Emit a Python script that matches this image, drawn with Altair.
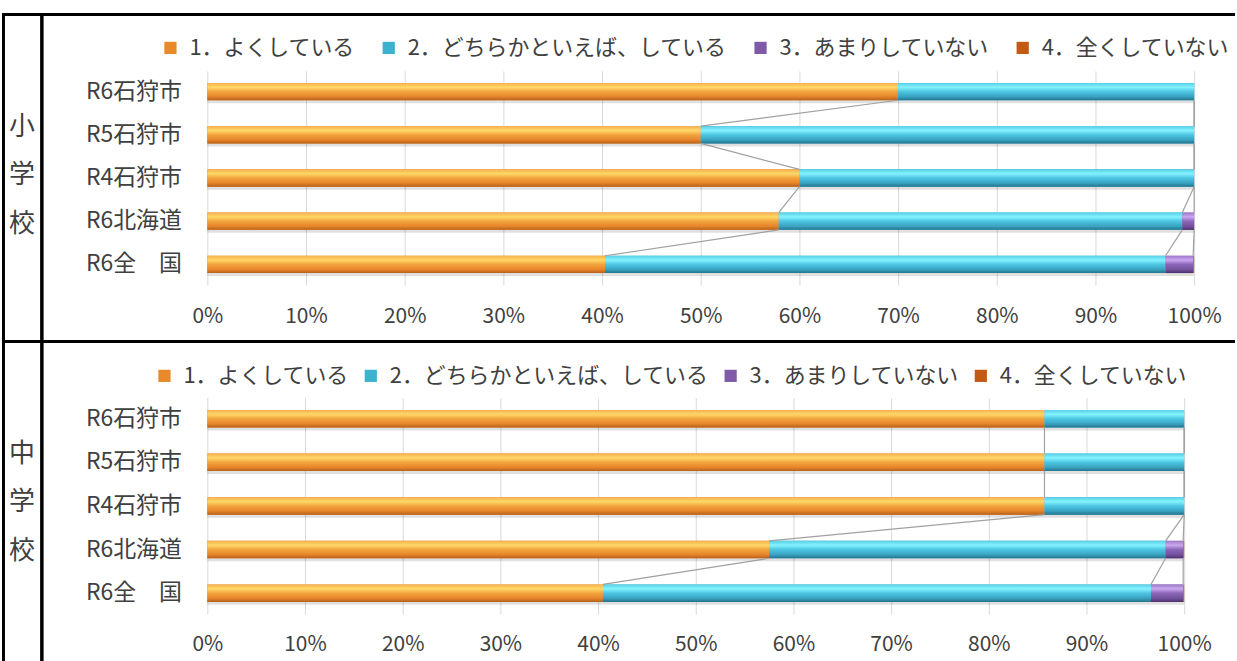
import altair as alt
import pandas as pd

# ---------------- data ----------------
categories = ["R6石狩市", "R5石狩市", "R4石狩市", "R6北海道", "R6全　国"]
series_names = ["1．よくしている", "2．どちらかといえば、している", "3．あまりしていない", "4．全くしていない"]
series_colors = ["#E8892A", "#3DB2CF", "#7E5AA8", "#C25A16"]

# 小学校 (percent)
elem_s1 = [70.0, 50.0, 60.0, 57.9, 40.3]
elem_s2 = [30.0, 50.0, 40.0, 40.9, 56.8]
elem_s3 = [0.0, 0.0, 0.0, 1.2, 2.8]
elem_s4 = [0.0, 0.0, 0.0, 0.0, 0.1]

# 中学校 (percent)
jh_s1 = [85.7, 85.7, 85.7, 57.5, 40.5]
jh_s2 = [14.3, 14.3, 14.3, 40.6, 56.1]
jh_s3 = [0.0, 0.0, 0.0, 1.8, 3.3]
jh_s4 = [0.0, 0.0, 0.0, 0.1, 0.1]

x_ticks = [0, 10, 20, 30, 40, 50, 60, 70, 80, 90, 100]
side_elem = ["小", "学", "校"]
side_jh = ["中", "学", "校"]

# ---------------- style ----------------
FONT = "Noto Sans CJK JP"
TEXT = "#404040"
PAD_IN = 0.6
PAD_OUT = 0.28

gradients = [
    [("#F6B04E", 0), ("#FFD868", 0.25), ("#F3A43E", 0.5), ("#E5842A", 0.8), ("#B5601B", 1)],
    [("#58CFE6", 0), ("#84F3FF", 0.25), ("#4DC6E2", 0.5), ("#38A2C0", 0.8), ("#25738C", 1)],
    [("#9C78C8", 0), ("#CBA8F0", 0.25), ("#8C66B8", 0.5), ("#73509D", 0.8), ("#4D326E", 1)],
]


def grad(stops):
    return {
        "gradient": "linear", "x1": 0, "x2": 0, "y1": 0, "y2": 1,
        "stops": [{"offset": o, "color": c} for c, o in stops],
    }


def make_table(vals):
    rows = []
    for i, cat in enumerate(categories):
        start = 0.0
        for k, name in enumerate(series_names):
            v = vals[k][i]
            rows.append({"cat": cat, "series": name, "k": k,
                         "start": start, "end": start + v})
            start += v
    return pd.DataFrame(rows)


def make_lines(vals):
    n = len(categories)
    ends = [[sum(vals[j][i] for j in range(k + 1)) for i in range(n)] for k in range(3)]
    rows = []
    for k in range(3):
        for i in range(n - 1):
            rows.append({"upper": categories[i], "lower": categories[i + 1],
                         "xu": ends[k][i], "xl": ends[k][i + 1]})
    return pd.DataFrame(rows)


one = pd.DataFrame({"_": [0]})


def panel(vals, width, height, legend_x, legend_y, col_pad, side_chars, extra=()):
    bars = make_table(vals)
    lines = make_lines(vals)
    half = (1 - PAD_IN) * height / (len(categories) - PAD_IN + 2 * PAD_OUT) / 2

    xscale = alt.Scale(domain=[0, 100], nice=False)
    yscale = alt.Scale(domain=categories, paddingInner=PAD_IN, paddingOuter=PAD_OUT)
    x_axis = alt.Axis(values=x_ticks, labelExpr="datum.value + '%'", grid=True,
                      gridColor="#D9D9D9", gridWidth=1, domain=False, ticks=False,
                      labelFontSize=21, labelColor=TEXT, labelFont=FONT,
                      labelFlush=False, labelPadding=20, title=None)
    y_axis = alt.Axis(domain=False, ticks=False, grid=False, labelFontSize=23,
                      labelColor=TEXT, labelFont=FONT, labelPadding=26, title=None)

    base = alt.Chart(bars).encode(
        x=alt.X("start:Q", scale=xscale, axis=x_axis),
        x2="end:Q",
        y=alt.Y("cat:N", scale=yscale, axis=y_axis),
    )
    shadow = base.mark_bar(color="#000000", opacity=0.12, yOffset=3)
    solid = base.mark_bar().encode(
        color=alt.Color(
            "series:N",
            scale=alt.Scale(domain=series_names, range=series_colors),
            legend=alt.Legend(orient="none", legendX=legend_x, legendY=legend_y,
                              direction="horizontal", columns=4, title=None,
                              symbolType="square", symbolSize=150,
                              symbolStrokeWidth=0, labelFontSize=22,
                              labelColor=TEXT, labelFont=FONT, labelLimit=1000,
                              columnPadding=col_pad, labelOffset=8, padding=0),
        )
    )
    grad_layers = [
        base.transform_filter(alt.datum.k == k).mark_bar(fill=grad(gradients[k]))
        for k in range(3)
    ]
    series_lines = alt.Chart(lines).mark_rule(
        color="#A0A0A0", strokeWidth=1.2, yOffset=half, y2Offset=-half
    ).encode(
        x=alt.X("xu:Q", scale=xscale, axis=x_axis),
        x2="xl:Q",
        y=alt.Y("upper:N", scale=yscale, axis=y_axis),
        y2="lower:N",
    )
    side = alt.Chart(one).mark_text(
        fontSize=26, lineHeight=49, align="center", baseline="middle",
        color=TEXT, font=FONT
    ).encode(x=alt.value(-186), y=alt.value(56), text=alt.value(side_chars))

    layers = [shadow, solid] + grad_layers + [series_lines, side] + list(extra)
    return alt.layer(*layers).properties(width=width, height=height)


def hrule(x1, x2, y, w):
    return alt.Chart(one).mark_rule(color="#000000", strokeWidth=w).encode(
        x=alt.value(x1), x2=alt.value(x2), y=alt.value(y))


def vrule(x, y1, y2, w):
    return alt.Chart(one).mark_rule(color="#000000", strokeWidth=w).encode(
        x=alt.value(x), y=alt.value(y1), y2=alt.value(y2))


borders = [
    hrule(-206, 1031, -56.5, 3),     # top border
    hrule(-206, 1031, 271.5, 3),     # separator between 小学校 / 中学校
    vrule(-204.5, -58, 593, 3),      # left border
    vrule(-166, -55, 593, 3.5),      # inner vertical border
]

top = panel([elem_s1, elem_s2, elem_s3, elem_s4], 990, 215, -48, -34, 22, side_elem, borders)
bottom = panel([jh_s1, jh_s2, jh_s3, jh_s4], 980, 217, -54, -33, 10, side_jh)

chart = alt.vconcat(top, bottom, spacing=113, bounds="flush").resolve_scale(
    x="independent", y="independent", color="independent"
).resolve_legend(color="independent").properties(
    padding={"left": 0, "top": 10, "right": 0, "bottom": 0},
    autosize=alt.AutoSizeParams(type="pad"),
).configure(font=FONT).configure_view(stroke=None)

chart.save("out.html", embed_options={"renderer": "svg", "actions": False})
